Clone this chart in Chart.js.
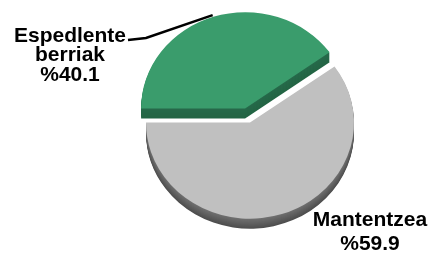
<!DOCTYPE html>
<html>
<head>
<meta charset="utf-8">
<script src="https://cdn.jsdelivr.net/npm/chart.js@4/dist/chart.umd.min.js"></script>
<style>
  html, body { margin: 0; padding: 0; background: #ffffff; }
  #wrap { width: 431px; height: 257px; position: relative; }
</style>
</head>
<body>
<div id="wrap"><canvas id="c" width="431" height="257"></canvas></div>
<script>
// ---- data ----
const categories = ['Espedlente berriak', 'Mantentzea'];
const labelLines = [['Espedlente', 'berriak'], ['Mantentzea']];
const values = [40.1, 59.9];
const topColors = ['#3a9c6c', '#c0c0c0'];
const wallColorsTop = ['#26694a', '#6e6e6e'];
const wallColorsBottom = ['#236544', '#4e4e4e'];
const explode = [16, 0];

const S = 0.925;      // vertical tilt
const DEPTH = 10;     // thickness

function lerpColor(a, b, t) {
  const pa = [1,3,5].map(i => parseInt(a.substr(i,2),16));
  const pb = [1,3,5].map(i => parseInt(b.substr(i,2),16));
  return 'rgb(' + pa.map((v,i) => Math.round(v + (pb[i]-v)*t)).join(',') + ')';
}

function shiftOf(a, i) {
  const h = (a.startAngle + a.endAngle) / 2;
  return [Math.cos(h) * explode[i], Math.sin(h) * explode[i]];
}

const pie3d = {
  id: 'pie3d',
  beforeDatasetsDraw(chart) {
    const ctx = chart.ctx;
    const arcs = chart.getDatasetMeta(0).data;
    const cx = arcs[0].x, cy = arcs[0].y;
    const tilt = () => { ctx.translate(cx, cy); ctx.scale(1, S); ctx.translate(-cx, -cy); };
    // side walls
    for (let k = DEPTH; k >= 1; k--) {
      arcs.forEach((a, i) => {
        const [dx, dy] = shiftOf(a, i);
        ctx.save();
        ctx.translate(0, k);
        tilt();
        ctx.beginPath();
        ctx.moveTo(a.x + dx, a.y + dy);
        ctx.arc(a.x + dx, a.y + dy, a.outerRadius, a.startAngle, a.endAngle);
        ctx.closePath();
        ctx.fillStyle = lerpColor(wallColorsTop[i], wallColorsBottom[i], (k - 1) / (DEPTH - 1));
        ctx.fill();
        ctx.restore();
      });
    }
    // tops
    arcs.forEach((a, i) => {
      const [dx, dy] = shiftOf(a, i);
      ctx.save();
      tilt();
      ctx.translate(dx, dy);
      a.draw(ctx);
      ctx.restore();
    });
    return false;
  },
  afterDraw(chart) {
    const ctx = chart.ctx;
    const arcs = chart.getDatasetMeta(0).data;
    const cx = arcs[0].x, cy = arcs[0].y;
    ctx.save();
    ctx.fillStyle = '#000';
    ctx.font = 'bold 21px "Liberation Sans", Arial, sans-serif';
    ctx.textAlign = 'center';
    ctx.textBaseline = 'alphabetic';
    // label 1 (green)
    const l1 = labelLines[0].concat(['%' + values[0].toFixed(1)]);
    const b1 = [42, 61, 81];
    l1.forEach((t, j) => ctx.fillText(t, 70, b1[j]));
    // label 2 (gray)
    const l2 = labelLines[1].concat(['%' + values[1].toFixed(1)]);
    const b2 = [226, 250];
    l2.forEach((t, j) => ctx.fillText(t, 370, b2[j]));
    // leader line to green slice
    const a = arcs[0];
    const h = (a.startAngle + a.endAngle) / 2;
    const [dx, dy] = shiftOf(a, 0);
    const ex = a.x + dx + Math.cos(h) * (a.outerRadius + 2);
    const ey = cy + (a.y + dy + Math.sin(h) * (a.outerRadius + 2) - cy) * S;
    ctx.strokeStyle = '#000';
    ctx.lineWidth = 2.5;
    ctx.beginPath();
    ctx.moveTo(128, 40);
    ctx.lineTo(146, 38);
    ctx.lineTo(ex, ey);
    ctx.stroke();
    ctx.restore();
  }
};

new Chart(document.getElementById('c'), {
  type: 'pie',
  data: {
    labels: categories,
    datasets: [{
      data: values,
      backgroundColor: topColors,
      borderWidth: 0,
      hoverOffset: 0
    }]
  },
  options: {
    responsive: false,
    animation: false,
    rotation: -90,
    layout: { padding: { left: 146, right: 77, top: 18.5, bottom: 30.5 } },
    plugins: {
      legend: { display: false },
      tooltip: { enabled: false },
      title: { display: false }
    },
    events: []
  },
  plugins: [pie3d]
});
</script>
</body>
</html>
